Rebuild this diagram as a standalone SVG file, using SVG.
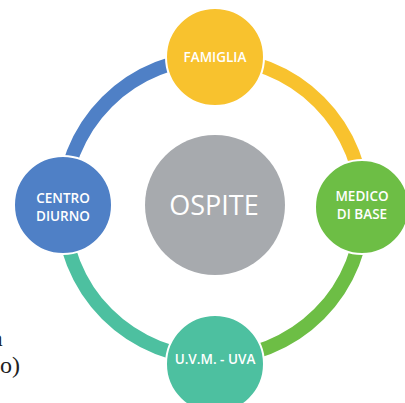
<svg xmlns="http://www.w3.org/2000/svg" width="405" height="403" viewBox="0 0 405 403">
<style>
.arc{fill:none;stroke-width:14}
.node{stroke:#fff;stroke-width:2}
.lbl{fill:#fff;font-family:"Open Sans","Liberation Sans",sans-serif;font-size:13.5px;font-weight:600;text-anchor:middle}
.big{fill:#fff;font-family:"Open Sans","Liberation Sans",sans-serif;font-size:27px;text-anchor:middle}
.page{fill:#222;font-family:"Liberation Serif",serif;font-size:24px}
</style>
<rect width="405" height="403" fill="#fff"/>
<g id="connectors">
<path class="arc" stroke="#F8C22E" d="M213,58 A150,150 0 0 1 363,208"/>
<path class="arc" stroke="#6DBE45" d="M363,208 A150,150 0 0 1 213,358"/>
<path class="arc" stroke="#4DC0A0" d="M213,358 A150,150 0 0 1 63,208"/>
<path class="arc" stroke="#4F80C6" d="M63,208 A150,150 0 0 1 213,58"/>
</g>
<g id="ospite"><circle cx="215" cy="205" r="70" fill="#A7AAAE"/><text class="big" x="214" y="215">OSPITE</text></g>
<g id="famiglia"><circle class="node" cx="215" cy="57" r="49" fill="#F8C22E"/><text class="lbl" x="215" y="62">FAMIGLIA</text></g>
<g id="medico"><circle class="node" cx="362" cy="207" r="47" fill="#6DBE45"/><text class="lbl" x="362" y="201">MEDICO</text><text class="lbl" x="362" y="219">DI BASE</text></g>
<g id="uvm"><circle class="node" cx="215" cy="364" r="49" fill="#4DC0A0"/><text class="lbl" x="215" y="364">U.V.M. - UVA</text></g>
<g id="centro"><circle class="node" cx="63" cy="205" r="49" fill="#4F80C6"/><text class="lbl" x="63" y="203">CENTRO</text><text class="lbl" x="63" y="221">DIURNO</text></g>
<text class="page" x="-8" y="346">a</text>
<text class="page" x="0" y="373">o)</text>
</svg>
